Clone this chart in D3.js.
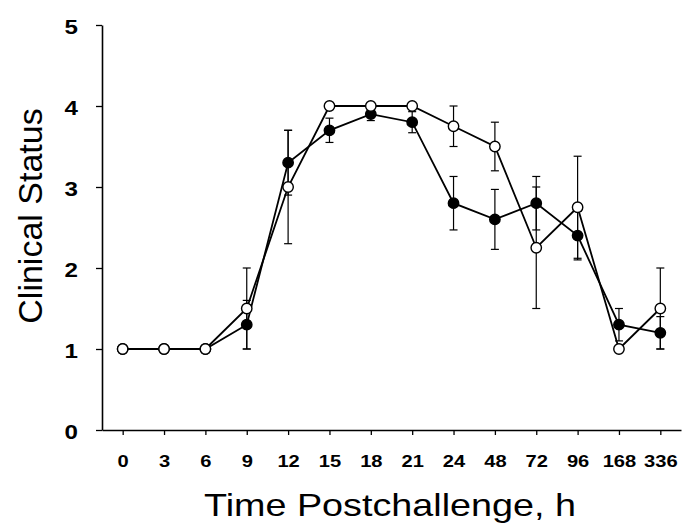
<!DOCTYPE html>
<html>
<head>
<meta charset="utf-8">
<script src="https://cdn.jsdelivr.net/npm/d3@7"></script>
<style>
  html, body { margin: 0; padding: 0; background: #fff; }
  svg { display: block; font-family: "Liberation Sans", Arial, sans-serif; }
</style>
</head>
<body>
<div id="chart"></div>
<script>
// categories (hours after challenge) and the two series
const times = ["0", "3", "6", "9", "12", "15", "18", "21", "24", "48", "72", "96", "168", "336"];
const closedMean = [1, 1, 1, 1.3, 3.3, 3.7, 3.9, 3.8, 2.8, 2.6, 2.8, 2.4, 1.3, 1.2];
const closedErr  = [0, 0, 0, 0.3, 0.4, 0.15, 0.08, 0.13, 0.33, 0.37, 0.33, 0.3, 0.2, 0.2];
const openMean   = [1, 1, 1, 1.5, 3.0, 4, 4, 4, 3.75, 3.5, 2.25, 2.75, 1.0, 1.5];
const openErr    = [0, 0, 0, 0.5, 0.7, 0, 0, 0, 0.25, 0.3, 0.75, 0.63, 0, 0.5];
const yTicks = [0, 1, 2, 3, 4, 5];

const width = 682, height = 526;
const plotLeft = 102, plotRight = 681, plotTop = 25, plotBottom = 430;

const svg = d3.select("#chart").append("svg")
  .attr("width", width).attr("height", height);

const x = d3.scalePoint().domain(times).range([plotLeft, plotRight]).padding(0.5);
const y = d3.scaleLinear().domain([0, 5]).range([plotBottom, plotTop]);

// --- axes ---
const gx = svg.append("g")
  .attr("transform", `translate(0,${plotBottom})`)
  .call(d3.axisBottom(x).tickSize(5).tickSizeOuter(0));
gx.select(".domain").attr("stroke-width", 1.6);
gx.selectAll(".tick line").attr("stroke-width", 1.3);
gx.selectAll(".tick text")
  .attr("y", null).attr("dy", null)
  .attr("transform", "translate(0,36.5) scale(1.22,1)")
  .attr("text-anchor", "middle")
  .attr("font-size", 16.5).attr("font-weight", "bold")
  .attr("font-family", "Liberation Sans, Arial, sans-serif")
  .attr("fill", "#000");

const gy = svg.append("g")
  .attr("transform", `translate(${plotLeft},0)`)
  .call(d3.axisLeft(y).tickValues(yTicks).tickFormat(d3.format("d")).tickSize(6).tickSizeOuter(0));
gy.select(".domain").attr("stroke-width", 1.6);
gy.selectAll(".tick line").attr("stroke-width", 1.3);
gy.selectAll(".tick text")
  .attr("x", null).attr("dy", null)
  .attr("transform", "translate(-24,8) scale(1.15,1)")
  .attr("text-anchor", "end")
  .attr("font-size", 21).attr("font-weight", "bold")
  .attr("font-family", "Liberation Sans, Arial, sans-serif")
  .attr("fill", "#000");

// axis titles
svg.append("text")
  .attr("transform", "translate(390,516) scale(1.18,1)")
  .attr("text-anchor", "middle")
  .attr("font-size", 32)
  .text("Time Postchallenge, h");

svg.append("text")
  .attr("transform", "translate(42,216) rotate(-90)")
  .attr("text-anchor", "middle")
  .attr("font-size", 34)
  .text("Clinical Status");

// --- series ---
const series = [
  { mean: closedMean, err: closedErr, fill: "#000" },
  { mean: openMean, err: openErr, fill: "#fff" }
];

const line = d3.line().x((d, i) => x(times[i])).y(d => y(d));
const cap = 4;

// error bars first
for (const s of series) {
  const g = svg.append("g").attr("stroke", "#000").attr("stroke-width", 1.2);
  s.mean.forEach((m, i) => {
    const e = s.err[i];
    if (!e) return;
    const cx = x(times[i]);
    g.append("line").attr("x1", cx).attr("x2", cx).attr("y1", y(m - e)).attr("y2", y(m + e));
    g.append("line").attr("x1", cx - cap).attr("x2", cx + cap).attr("y1", y(m - e)).attr("y2", y(m - e));
    g.append("line").attr("x1", cx - cap).attr("x2", cx + cap).attr("y1", y(m + e)).attr("y2", y(m + e));
  });
}

// connecting lines
for (const s of series) {
  svg.append("path").datum(s.mean)
    .attr("d", line)
    .attr("fill", "none").attr("stroke", "#000").attr("stroke-width", 1.8);
}

// markers (open circles on top)
for (const s of series) {
  svg.append("g").selectAll("circle")
    .data(s.mean)
    .join("circle")
    .attr("cx", (d, i) => x(times[i]))
    .attr("cy", d => y(d))
    .attr("r", 5.2)
    .attr("fill", s.fill)
    .attr("stroke", "#000").attr("stroke-width", 1.4);
}
</script>
</body>
</html>
